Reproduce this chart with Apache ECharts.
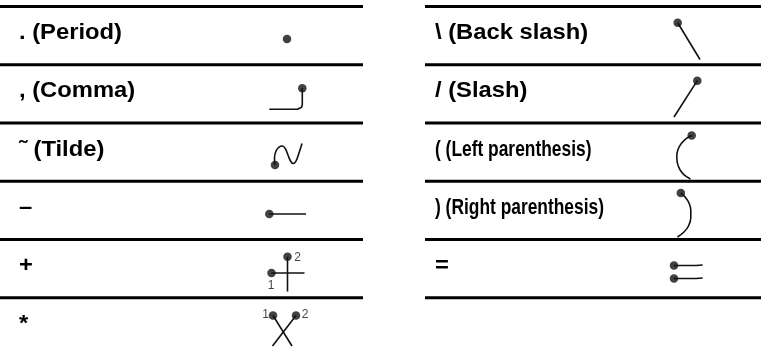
<!DOCTYPE html>
<html>
<head>
<meta charset="utf-8">
<script src="https://cdn.jsdelivr.net/npm/echarts@6/dist/echarts.min.js"></script>
<style>
  html, body { margin: 0; padding: 0; background: #fff; }
  #chart { width: 761px; height: 356px; }
</style>
</head>
<body>
<div id="chart"></div>
<script>
// ---------- content ----------
const leftLabels = ['. (Period)', ', (Comma)', '\u02DC (Tilde)', '\u2013', '+', '*'];
const rightLabels = ['\\ (Back slash)', '/ (Slash)', '( (Left parenthesis)', ') (Right parenthesis)', '='];
const condensedRight = [2, 3];   // right-table rows set in a condensed face

// glyph strokes, in px relative to the glyph cell centre (first point of each stroke carries the dot)
const periodStrokes    = [[[0, 3.4]]];
const commaStrokes     = [[[15.3, -5.6], [15.3, 10.6], [14.6, 13.3], [12.8, 14.9], [10.5, 15.4], [-17.7, 15.4]]];
const tildeStrokes     = [[[-12, 12.9], [-12.5, 5.9], [-11, -1.1], [-8, -5.1], [-4.5, -6.1], [-1.5, -3.1], [1, 2.9], [3.5, 8.9], [6, 11.4], [9, 8.9], [12, 0.9], [15, -8.6]]];
const minusStrokes     = [[[-17.7, 3.6], [19, 3.6]]];
const plusStrokes      = [[[-15.5, 4.4], [17.5, 4.4]], [[0.5, -11.9], [0.5, 22.9]]];
const asteriskStrokes  = [[[-14, -11.4], [5, 19.1]], [[9, -11.4], [-14.5, 19.1]]];
const backslashStrokes = [[[-10.3, -12.9], [12, 23.9]]];
const slashStrokes     = [[[9.3, -13.2], [-14, 23.1]]];
const lparenStrokes    = [[[3.7, -16.6], [-1.5, -13.8], [-6.5, -8.8], [-10, -2.6], [-11.2, 3.8], [-10.6, 11], [-8, 17.6], [-3.6, 23], [2.5, 26.9]]];
const rparenStrokes    = [[[-7.2, -17.4], [-2.5, -12.9], [1, -7.4], [2.8, -0.4], [2.8, 7.6], [0.5, 15.6], [-4, 21.6], [-10.5, 26.6]]];
const equalsStrokes    = [[[-14, -3.1], [8, -3.2], [14.7, -3.7]], [[-14, 9.9], [8, 9.8], [14.7, 9.3]]];

// stroke-order numbers
const plusNumbers     = [['1', -16, 16.9], ['2', 10.5, -11.1]];
const asteriskNumbers = [['1', -21.5, -11.9], ['2', 18, -11.9]];

const leftGlyphs  = [periodStrokes, commaStrokes, tildeStrokes, minusStrokes, plusStrokes, asteriskStrokes];
const rightGlyphs = [backslashStrokes, slashStrokes, lparenStrokes, rparenStrokes, equalsStrokes];
const curved = [tildeStrokes, lparenStrokes, rparenStrokes];
const leftNumbers  = [null, null, null, null, plusNumbers, asteriskNumbers];

// ---------- layout ----------
const W = 761, H = 356;
const ROW_TOP = 6.5, ROW_H = 58.25;
const tables = [
  { x0: 0,   x1: 363, textX: 19,  glyphX: 287, labels: leftLabels,  glyphs: leftGlyphs,  numbers: leftNumbers, rules: 6 },
  { x0: 425, x1: W,   textX: 435, glyphX: 688, labels: rightLabels, glyphs: rightGlyphs, numbers: [], rules: 6 }
];
const rowCenter = i => ROW_TOP + ROW_H * (i + 0.5);

const series = [];
const ink = '#111';

// rules
tables.forEach(t => {
  for (let k = 0; k < t.rules; k++) {
    const y = ROW_TOP + ROW_H * k;
    series.push({ type: 'line', data: [[t.x0, y], [t.x1, y]], symbol: 'none', silent: true,
      lineStyle: { color: '#000', width: 2.8 }, animation: false, z: 1 });
  }
});

// strokes and dots
const dots = [];
tables.forEach(t => {
  t.glyphs.forEach((strokes, i) => {
    const cy = rowCenter(i);
    strokes.forEach(st => {
      const pts = st.map(p => [t.glyphX + p[0], cy + p[1]]);
      dots.push(pts[0]);
      if (pts.length > 1) {
        series.push({ type: 'line', data: pts, symbol: 'none', silent: true,
          smooth: curved.includes(strokes) ? 0.35 : false,
          lineStyle: { color: ink, width: 1.6, cap: 'butt', join: 'round' }, animation: false, z: 2 });
      }
    });
  });
});
series.push({ type: 'scatter', data: dots, symbol: 'circle', symbolSize: 8.5, silent: true,
  itemStyle: { color: ink }, animation: false, z: 3 });

// stroke numbers
const numData = [];
tables.forEach(t => t.numbers.forEach((nums, i) => {
  if (!nums) return;
  nums.forEach(n => numData.push({ name: n[0], value: [t.glyphX + n[1], rowCenter(i) + n[2]] }));
}));
series.push({ type: 'scatter', data: numData, symbolSize: 0, silent: true, animation: false,
  label: { show: true, position: 'inside', formatter: '{b}', color: ink, fontSize: 12,
    fontFamily: '"Liberation Sans", Arial, sans-serif' } });

// text labels (custom series so the face can be widened / condensed like the original)
const textItems = [];
tables.forEach((t, ti) => t.labels.forEach((txt, i) => {
  const cond = ti === 1 && condensedRight.includes(i);
  textItems.push({ text: txt, value: [t.textX, rowCenter(i) - 2.5], sx: cond ? 0.79 : 1.08 });
}));
series.push({
  type: 'custom', silent: true, animation: false, z: 4,
  data: textItems.map(d => d.value),
  renderItem: (params, api) => {
    const it = textItems[params.dataIndex];
    const p = api.coord([api.value(0), api.value(1)]);
    return { type: 'text', x: p[0], y: p[1], scaleX: it.sx, scaleY: 1,
      style: { text: it.text, fill: '#000', fontSize: 22, fontWeight: 'bold',
        fontFamily: '"Liberation Sans", Arial, Helvetica, sans-serif',
        align: 'left', verticalAlign: 'middle' } };
  }
});

const chart = echarts.init(document.getElementById('chart'), null, { renderer: 'canvas' });
chart.setOption({
  animation: false,
  backgroundColor: '#fff',
  grid: { left: 0, right: 0, top: 0, bottom: 0 },
  xAxis: { type: 'value', min: 0, max: W, show: false },
  yAxis: { type: 'value', min: 0, max: H, inverse: true, show: false },
  series
});
</script>
</body>
</html>
